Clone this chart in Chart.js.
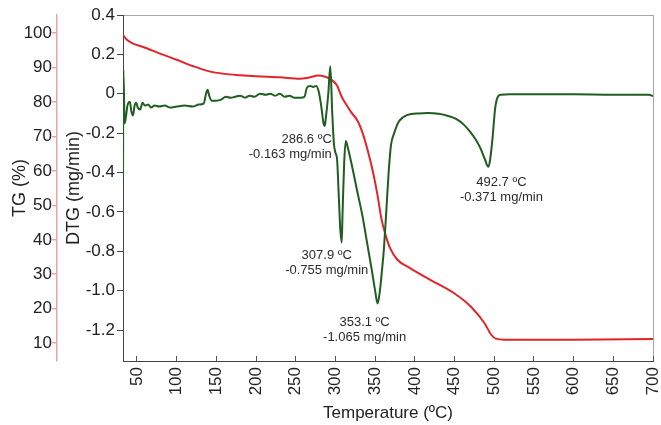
<!DOCTYPE html>
<html lang="en">
<head>
<meta charset="UTF-8">
<title>TG / DTG</title>
<script src="https://cdn.jsdelivr.net/npm/chart.js@4.4.0/dist/chart.umd.min.js"></script>
<style>
    body { margin: 0; background: #fff; }
    #wrap { width: 661px; height: 425px; }
</style>
</head>
<body>
<div id="wrap"><canvas id="tg_dtg" width="661" height="425"></canvas></div>
<script>
// TG curve: temperature (ºC) and mass (%)
var tgTemp = [32.4, 37, 45, 58, 80, 100, 120, 140, 160, 180, 200, 230, 255, 268, 278, 288, 295, 302, 308, 313,
              320, 328, 335, 340, 347, 353, 358, 363, 369, 378, 394, 420, 450, 471, 488, 496, 502, 513, 600, 700];
var tgVal = [99.5, 98.2, 97, 96, 94, 92.3, 90.5, 89, 88.2, 87.8, 87.5, 87.2, 86.8, 87.2, 87.7, 87.3, 86.5, 84.8, 81.5, 79.5,
             77, 74.5, 70.5, 66.5, 60, 53, 46, 41.5, 37.5, 34.2, 31.8, 28.3, 24.4, 20.5, 15.7, 12.5, 11.3, 11.0, 11.0, 11.2];

// DTG curve: temperature (ºC) and rate (mg/min)
var dtgTemp = [32.4, 32.9, 34.5, 36, 38, 41, 43, 45, 47, 49, 51, 54, 57, 60, 64, 68, 72, 78, 85, 92,
               100, 110, 120, 128, 134, 137, 139, 141, 144, 150, 156, 162, 168, 174, 180, 186, 192, 198, 205, 212,
               218, 224, 230, 236, 242, 248, 256, 261, 264, 268, 272, 276, 279, 282, 285, 286.6, 288, 291, 293.5, 296,
               298, 300, 302, 304, 306, 307.9, 309, 311, 313, 316, 320, 327.7, 334, 340, 346, 350, 353.1, 356, 359, 361,
               364, 367, 370, 374, 380, 391, 405, 416, 430, 442, 452, 462, 470, 477, 483, 488, 492.7, 495, 498, 501,
               504, 508, 520, 600, 650, 695, 700];
var dtgVal = [-0.45, 0.12, -0.15, -0.12, -0.06, -0.04, -0.09, -0.11, -0.06, -0.045, -0.07, -0.08, -0.045, -0.06, -0.055, -0.07, -0.06, -0.065, -0.06, -0.07,
              -0.065, -0.06, -0.065, -0.055, -0.05, 0.0, 0.02, -0.01, -0.035, -0.035, -0.03, -0.015, -0.02, -0.015, -0.01, -0.02, -0.01, -0.015, 0.0, -0.005,
              0.0, -0.01, 0.0, -0.015, -0.01, -0.02, -0.02, -0.015, 0.03, 0.04, 0.035, 0.04, 0.01, -0.06, -0.15, -0.163, -0.12, 0.0, 0.14, -0.1,
              -0.25, -0.3, -0.33, -0.5, -0.68, -0.755, -0.6, -0.35, -0.24, -0.28, -0.35, -0.5, -0.62, -0.76, -0.9, -1.0, -1.065, -1.0, -0.88, -0.79,
              -0.6, -0.4, -0.26, -0.2, -0.14, -0.107, -0.1, -0.098, -0.102, -0.113, -0.128, -0.158, -0.195, -0.235, -0.28, -0.33, -0.371, -0.33, -0.22, -0.08,
              -0.02, -0.005, -0.003, -0.003, -0.005, -0.005, -0.012];

// labelled DTG peaks
var peakTemp = [286.6, 307.9, 353.1, 492.7];
var peakDtg = [-0.163, -0.755, -1.065, -0.371];

// tick values and labels
var xTicks = [50, 100, 150, 200, 250, 300, 350, 400, 450, 500, 550, 600, 650, 700];
var dtgTicks = [0.4, 0.2, 0, -0.2, -0.4, -0.6, -0.8, -1.0, -1.2];
var dtgTickLabels = ['0.4', '0.2', '0', '-0.2', '-0.4', '-0.6', '-0.8', '-1.0', '-1.2'];
var tgTicks = [100, 90, 80, 70, 60, 50, 40, 30, 20, 10];

// where the peak texts go, relative to the peak (px)
var peakLabelPos = [
    {dx: 7, dy: 14, align: 'right'},
    {dx: -15, dy: 13, align: 'center'},
    {dx: -13, dy: 19, align: 'center'},
    {dx: 13, dy: 16, align: 'center'}
];

Chart.defaults.font.family = "'Liberation Sans', Arial, Helvetica, sans-serif";
Chart.defaults.color = '#222';

var framePlugin = {
    id: 'frame',
    beforeDraw: function (chart) {
        var a = chart.chartArea, ctx = chart.ctx;
        ctx.save();
        ctx.strokeStyle = '#a8a8a8';
        ctx.lineWidth = 1;
        ctx.strokeRect(a.left + 0.5, a.top + 0.5, a.right - a.left, a.bottom - a.top);
        ctx.restore();
    }
};

var peakTextPlugin = {
    id: 'peakText',
    afterDatasetsDraw: function (chart) {
        var ctx = chart.ctx;
        var xs = chart.scales.x, ys = chart.scales.dtg;
        ctx.save();
        ctx.font = "13px 'Liberation Sans', Arial, sans-serif";
        ctx.fillStyle = '#2b2b2b';
        ctx.textBaseline = 'middle';
        for (var i = 0; i < peakTemp.length; i++) {
            var px = xs.getPixelForValue(peakTemp[i]);
            var py = ys.getPixelForValue(peakDtg[i]);
            var p = peakLabelPos[i];
            ctx.textAlign = p.align;
            ctx.fillText(peakTemp[i].toFixed(1) + ' ºC', px + p.dx, py + p.dy);
            ctx.fillText(peakDtg[i].toFixed(3) + ' mg/min', px + p.dx, py + p.dy + 15);
        }
        ctx.restore();
    }
};

function toPoints(xs, ys) {
    return xs.map(function (x, i) { return {x: x, y: ys[i]}; });
}

new Chart(document.getElementById('tg_dtg'), {
    type: 'line',
    data: {
        datasets: [
        {
            label: 'DTG',
            data: toPoints(dtgTemp, dtgVal),
            yAxisID: 'dtg',
            borderColor: '#1f5d20',
            borderWidth: 2,
            pointRadius: 0,
            cubicInterpolationMode: 'monotone',
            order: 0
        },
        {
            label: 'TG',
            data: toPoints(tgTemp, tgVal),
            yAxisID: 'tg',
            borderColor: '#e32429',
            borderWidth: 2,
            pointRadius: 0,
            cubicInterpolationMode: 'monotone',
            order: 1
        }]
    },
    options: {
        responsive: false,
        animation: false,
        layout: {padding: {top: 15, right: 8, bottom: 0, left: 0}, autoPadding: false},
        plugins: {legend: {display: false}, tooltip: {enabled: false}},
        scales: {
            x: {
                type: 'linear',
                position: 'bottom',
                min: 32.4,
                max: 700,
                afterBuildTicks: function (s) { s.ticks = xTicks.map(function (v) { return {value: v}; }); },
                afterFit: function (s) {
                    s.height = 64;
                    // rotated labels would otherwise push the plot in from the right
                    s.paddingLeft = 0;
                    s.paddingRight = 0;
                },
                ticks: {
                    autoSkip: false,
                    minRotation: 90,
                    maxRotation: 90,
                    padding: 11,
                    font: {size: 17},
                    callback: function (v) { return String(v); }
                },
                grid: {drawOnChartArea: false, tickLength: -5, color: '#555'},
                border: {color: '#444'},
                title: {display: true, text: 'Temperature (ºC)', font: {size: 17}, color: '#222', padding: {top: 8, bottom: 1}}
            },
            dtg: {
                type: 'linear',
                position: 'left',
                weight: 0,
                min: -1.357,
                max: 0.4,
                afterBuildTicks: function (s) { s.ticks = dtgTicks.map(function (v) { return {value: v}; }); },
                afterFit: function (s) { s.width = 66; },
                ticks: {
                    padding: 2,
                    font: {size: 17},
                    callback: function (v, i) { return dtgTickLabels[i]; }
                },
                grid: {drawOnChartArea: false, tickLength: 6, color: '#444'},
                border: {color: '#444'},
                title: {display: true, text: 'DTG (mg/min)', font: {size: 18}, color: '#222', padding: {top: 6, bottom: 0}}
            },
            tg: {
                type: 'linear',
                position: 'left',
                weight: 1,
                min: 4.8,
                max: 105.3,
                afterBuildTicks: function (s) { s.ticks = tgTicks.map(function (v) { return {value: v}; }); },
                afterFit: function (s) { s.width = 57; },
                ticks: {
                    padding: 0,
                    font: {size: 17},
                    callback: function (v) { return String(v); }
                },
                grid: {drawOnChartArea: false, tickLength: 5, color: '#e7a2aa', lineWidth: 1.5},
                border: {color: '#e7a2aa', width: 1.5},
                title: {display: true, text: 'TG (%)', font: {size: 18}, color: '#222', padding: {top: 9, bottom: 0}}
            }
        }
    },
    plugins: [framePlugin, peakTextPlugin]
});
</script>
</body>
</html>
